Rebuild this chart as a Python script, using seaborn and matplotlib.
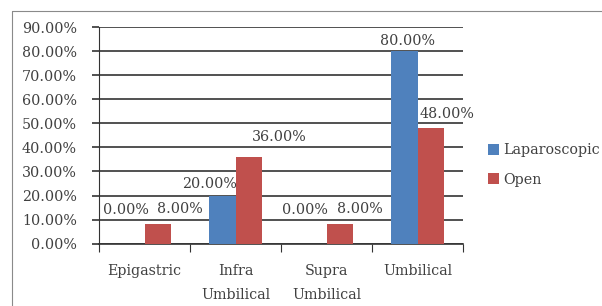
import pandas as pd
import seaborn as sns
import matplotlib.pyplot as plt
from matplotlib.lines import Line2D

categories = ['Epigastric', 'Infra\nUmbilical', 'Supra\nUmbilical', 'Umbilical']
laparoscopic = [0, 20, 0, 80]
open_ = [8, 36, 8, 48]
groups = ['Laparoscopic', 'Open']

# label offsets from bar top (pixels), Excel moved them around to avoid overlap
lap_offsets = [(-5, 33), (-13, 11), (-8, 33), (3, 10)]
open_offsets = [(22, 15), (31, 20), (20, 15), (16, 14)]

df = pd.DataFrame({
    'Location': categories * 2,
    'Value': laparoscopic + open_,
    'Group': [groups[0]] * 4 + [groups[1]] * 4,
})

sns.set_style('white')
plt.rcParams['font.family'] = ['DejaVu Serif']
plt.rcParams['font.size'] = 10.3
txt = '#404040'
line = '#333333'

fig = plt.figure(figsize=(6.02, 3.06), dpi=100)
ax = fig.add_axes([99 / 602, 1 - 243.5 / 306, 364 / 602, 216 / 306])

sns.barplot(data=df, x='Location', y='Value', hue='Group', order=categories,
            hue_order=groups, palette=['#4F81BD', '#C0504D'], width=0.575,
            gap=0, saturation=1, linewidth=0, ax=ax, zorder=3)

ax.set_ylim(0, 90)
ax.set_xlim(-0.5, 3.5)
ax.set_yticks(range(0, 91, 10))
ax.set_yticklabels(['{:.2f}%'.format(v) for v in range(0, 91, 10)], color=txt)
ax.set_xticklabels(categories, color=txt, linespacing=1.85)
ax.set_xlabel('')
ax.set_ylabel('')

ax.yaxis.grid(True, color=line, linewidth=1.2)
ax.set_axisbelow(True)
for s in ['top', 'right']:
    ax.spines[s].set_visible(False)
ax.spines['left'].set_color(line)
ax.spines['left'].set_linewidth(0.8)
ax.spines['bottom'].set_color(line)
ax.spines['bottom'].set_linewidth(1.2)

ax.tick_params(axis='y', length=5, width=1.2, color=line, pad=11, left=True)
ax.tick_params(axis='x', which='major', length=0, pad=15)
ax.set_xticks([-0.5, 0.5, 1.5, 2.5, 3.5], minor=True)
ax.tick_params(axis='x', which='minor', length=5.5, width=0.8, color=line, bottom=True)

for cont, vals, offs in zip(ax.containers, [laparoscopic, open_], [lap_offsets, open_offsets]):
    for bar, v, (dx, dy) in zip(cont, vals, offs):
        cx = bar.get_x() + bar.get_width() / 2
        ax.annotate('{:.2f}%'.format(v), (cx, bar.get_height()),
                    xytext=(dx * 0.72, dy * 0.72), textcoords='offset points',
                    ha='center', va='center', color=txt, fontsize=10.3,
                    annotation_clip=False)

ax.legend(loc='center left', bbox_to_anchor=(482 / 602, 1 - 165 / 306),
          bbox_transform=fig.transFigure, frameon=False, handlelength=0.8,
          handleheight=0.8, handletextpad=0.3, labelspacing=1.1,
          labelcolor=txt, borderaxespad=0)

# outer chart border, only left and top edges fall inside the picture
bx, by = 11.5 / 602, 1 - 10.5 / 306
fig.add_artist(Line2D([bx, bx], [0, by], transform=fig.transFigure, color='#8a8a8a', lw=0.8))
fig.add_artist(Line2D([bx, 1], [by, by], transform=fig.transFigure, color='#8a8a8a', lw=0.8))

plt.savefig('out.png', dpi=100)
